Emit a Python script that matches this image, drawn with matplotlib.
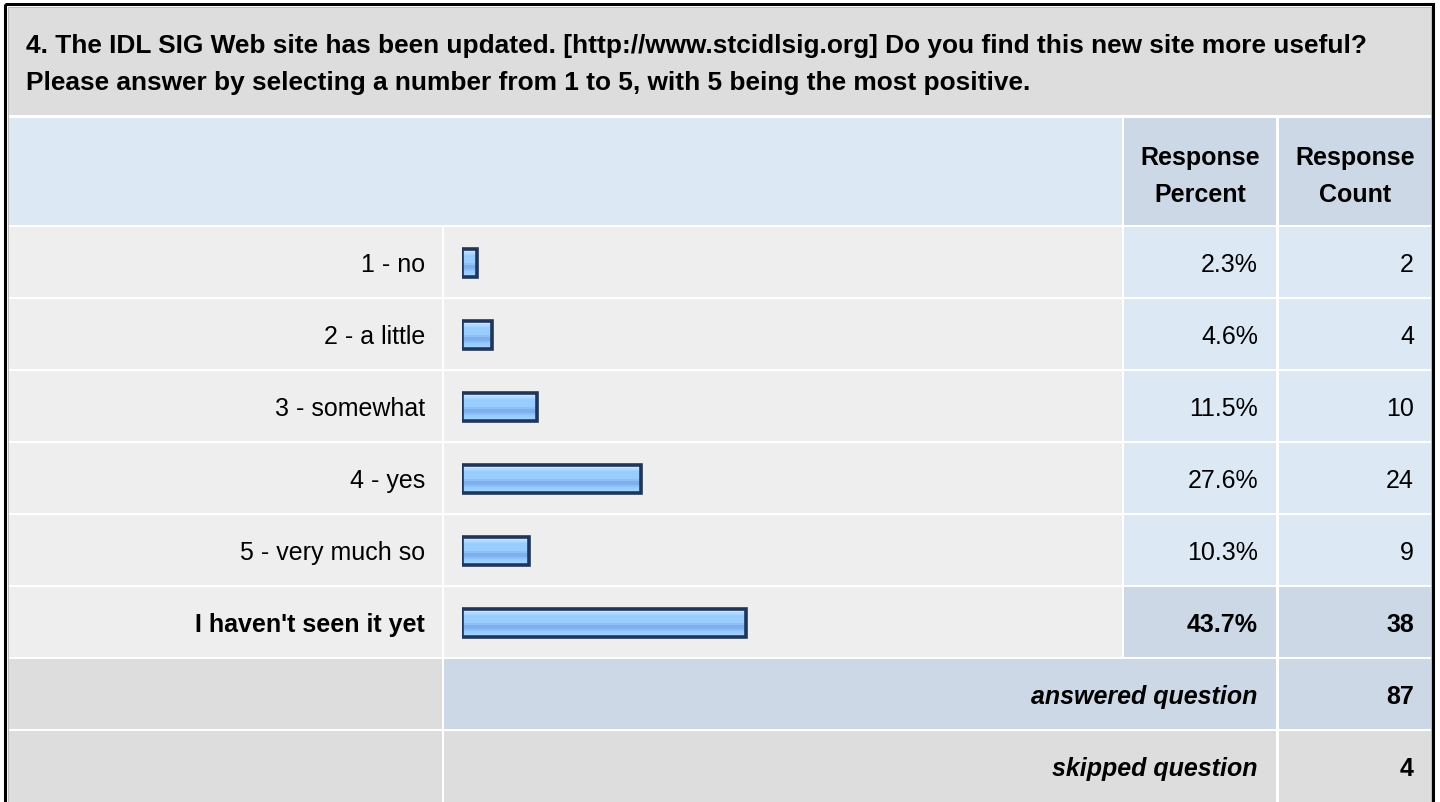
import matplotlib
matplotlib.use("Agg")
import matplotlib.pyplot as plt
from matplotlib.patches import Rectangle
from matplotlib.colors import to_rgb
import numpy as np

# ---------------- data ----------------
title_lines = [
    "4. The IDL SIG Web site has been updated. [http://www.stcidlsig.org] Do you find this new site more useful?",
    "Please answer by selecting a number from 1 to 5, with 5 being the most positive.",
]
categories = ["1 - no", "2 - a little", "3 - somewhat", "4 - yes", "5 - very much so", "I haven't seen it yet"]
percents = [2.3, 4.6, 11.5, 27.6, 10.3, 43.7]
counts = [2, 4, 10, 24, 9, 38]
header_percent = ["Response", "Percent"]
header_count = ["Response", "Count"]
answered_label = "answered question"
skipped_label = "skipped question"
answered = 87
skipped = 4

# ---------------- style ----------------
FONT = ["Liberation Sans", "DejaVu Sans"]
plt.rcParams["font.family"] = FONT
W, H = 1440, 803
C_TITLE = "#dddddd"
C_HEAD_L = "#dde8f5"
C_HEAD_R = "#ccd8e6"
C_ROW = "#eeeeee"
C_CELL = "#dde8f5"
C_HI = "#ccd8e6"
C_FOOT = "#dddddd"
TXT = "#000000"
BODY = 18.0
TITLE = 18.9

fig = plt.figure(figsize=(W / 100, H / 100), dpi=100)
fig.patch.set_facecolor("white")
ax = fig.add_axes([0, 0, 1, 1])
ax.set_xlim(0, W)
ax.set_ylim(H, 0)
ax.axis("off")


def cell(x0, y0, x1, y1, color):
    ax.add_patch(Rectangle((x0, y0), x1 - x0, y1 - y0, facecolor=color, edgecolor="none", zorder=1))


# column edges (pixels)
L0, L1 = 9, 442
B0, B1 = 444, 1122
P0, P1 = 1124, 1276
C0, C1 = 1279, 1431
ROW_TOP0, ROW_H = 228, 72
BASE = 44

# title
cell(L0, 9, C1, 116, C_TITLE)
ax.text(26, 53, title_lines[0], fontsize=TITLE, fontweight="bold", color=TXT, ha="left", va="baseline", zorder=3)
ax.text(26, 90, title_lines[1], fontsize=TITLE, fontweight="bold", color=TXT, ha="left", va="baseline", zorder=3)

# header
cell(L0, 119, B1, 226, C_HEAD_L)
cell(P0, 119, P1, 226, C_HEAD_R)
cell(C0, 119, C1, 226, C_HEAD_R)
for xc, lines in [((P0 + P1) / 2, header_percent), ((C0 + C1) / 2, header_count)]:
    ax.text(xc, 165, lines[0], fontsize=BODY, fontweight="bold", color=TXT, ha="center", va="baseline", zorder=3)
    ax.text(xc, 202, lines[1], fontsize=BODY, fontweight="bold", color=TXT, ha="center", va="baseline", zorder=3)

# answer rows
n = len(categories)
for i, (cat, p, c) in enumerate(zip(categories, percents, counts)):
    top = ROW_TOP0 + i * ROW_H
    bot = top + ROW_H - 2
    last = i == n - 1
    cell(L0, top, L1, bot, C_ROW)
    cell(B0, top, B1, bot, C_ROW)
    cell(P0, top, P1, bot, C_HI if last else C_CELL)
    cell(C0, top, C1, bot, C_HI if last else C_CELL)
    yb = top + BASE
    fw = "bold" if last else "normal"
    ax.text(425, yb, cat, fontsize=BODY, fontweight=fw, color=TXT, ha="right", va="baseline", zorder=3)
    ax.text(1258, yb, f"{p:.1f}%", fontsize=BODY, fontweight=fw, color=TXT, ha="right", va="baseline", zorder=3)
    ax.text(1414, yb, f"{c}", fontsize=BODY, fontweight=fw, color=TXT, ha="right", va="baseline", zorder=3)

# footer rows
a_top = ROW_TOP0 + n * ROW_H
cell(L0, a_top, L1, a_top + 70, C_FOOT)
cell(B0, a_top, P1, a_top + 70, C_HI)
cell(C0, a_top, C1, a_top + 70, C_HI)
s_top = a_top + ROW_H
cell(L0, s_top, L1, H + 5, C_FOOT)
cell(B0, s_top, P1, H + 5, C_FOOT)
cell(C0, s_top, C1, H + 5, C_FOOT)
for top, lab, val in [(a_top, answered_label, answered), (s_top, skipped_label, skipped)]:
    yb = top + BASE
    ax.text(1257, yb, lab, fontsize=BODY, fontweight="bold", fontstyle="italic", color=TXT,
            ha="right", va="baseline", zorder=3)
    ax.text(1414, yb, f"{val}", fontsize=BODY, fontweight="bold", color=TXT, ha="right", va="baseline", zorder=3)

# outer frame
ax.add_patch(Rectangle((5, 5), 1428, 820, facecolor="none", edgecolor="black", linewidth=2.2, zorder=5))
ax.add_patch(Rectangle((7.5, 7.5), 1423, 820, facecolor="none", edgecolor="#b0b0b0", linewidth=0.6, zorder=5))

# ---------------- bars ----------------
bx0 = 462 / W
bw = 650 / W
bax = fig.add_axes([bx0, 1 - (ROW_TOP0 + n * ROW_H) / H, bw, n * ROW_H / H])
bax.set_xlim(0, 100)
bax.set_ylim(n - 0.5, -0.5)
bax.axis("off")
bax.patch.set_alpha(0)

stripes = ["#c9e4ff", "#c9e4ff", "#b3d9ff", "#a6d2ff", "#99ccff", "#99ccff", "#99ccff", "#99ccff",
           "#99ccff", "#8ebff7", "#7fb0ee", "#7fb0ee", "#7fb0ee", "#8ebff7", "#99ccff", "#99ccff",
           "#a6d2ff", "#a6d2ff"]
grad = np.array([to_rgb(c) for c in stripes])[:, None, :]

bh = 0.38
ypos = np.arange(n)
bars = bax.barh(ypos, percents, height=bh, color="#99ccff", edgecolor="none", zorder=2)
for y, rect in zip(ypos, bars):
    im = bax.imshow(grad, aspect="auto", origin="upper", interpolation="nearest",
                    extent=(0, rect.get_width(), y + bh / 2, y - bh / 2), zorder=3)
    im.set_clip_path(rect)
bax.barh(ypos, percents, height=bh, color="none", edgecolor="#1d3659", linewidth=2.6, zorder=4)
bax.set_xlim(0, 100)
bax.set_ylim(n - 0.5, -0.5)

fig.savefig("out.png", dpi=100, facecolor="white")
